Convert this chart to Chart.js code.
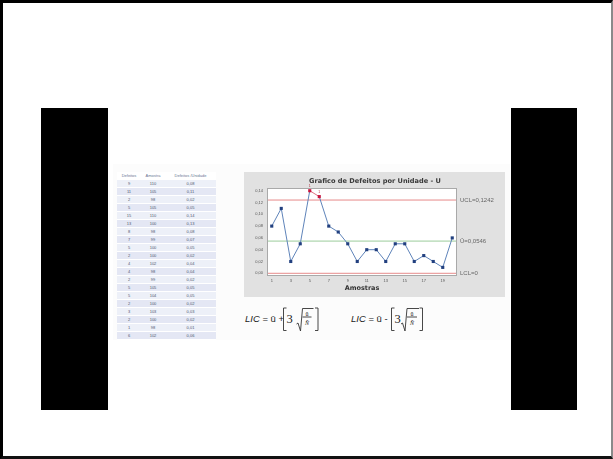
<!DOCTYPE html>
<html>
<head>
<meta charset="utf-8">
<script src="https://cdn.jsdelivr.net/npm/chart.js@4"></script>
<style>
  html, body { margin: 0; padding: 0; background: #fff; }
  #page { position: relative; width: 613px; height: 459px; overflow: hidden; background: #fff; }
  .frame { position: absolute; left: 0; top: 0; width: 613px; height: 459px; box-sizing: border-box;
           border-top: 3px solid #000; border-left: 3px solid #000; border-bottom: 3px solid #111; border-right: 2px solid #8a8a8a; }
  .bar { position: absolute; background: #000; top: 108px; height: 302px; }
  .sheet { position: absolute; left: 113px; top: 164px; width: 397px; height: 176px; background: #fcfcfc; }
  #tbl { position: absolute; left: 117px; top: 172px; width: 99px; border-collapse: collapse;
         font-family: "Liberation Sans", Arial, sans-serif; font-size: 4px; color: #4d5670; }
  #tbl td, #tbl th { height: 7px; padding: 0; text-align: center; line-height: 7px; box-sizing: border-box;
                     border-bottom: 1px solid #fff; font-weight: normal; }
  #tbl th { color: #6b7694; background: #fff; }
  #tbl tr:nth-child(odd) td { background: #e4e7f4; }
  #tbl tr:nth-child(even) td { background: #edf0f8; }
  #chartBox { position: absolute; left: 244px; top: 172px; width: 261px; height: 125px; }
  .formula { position: absolute; top: 300px; overflow: visible; }
</style>
</head>
<body>
<div id="page">
  <div class="bar" style="left:41px;width:67px;"></div>
  <div class="bar" style="left:511px;width:66px;"></div>
  <div class="sheet"></div>
  <table id="tbl"></table>
  <div id="chartBox"><canvas id="uChart" width="261" height="125"></canvas></div>

  <!-- upper limit formula -->
  <svg class="formula" style="left:240px" width="90" height="36" viewBox="240 300 90 36">
    <g fill="#222" stroke="none">
      <text x="245" y="321.5" font-family="Liberation Sans, Arial, sans-serif" font-size="9.5"><tspan font-style="italic">LIC</tspan> = ū +</text>
      <text x="286.5" y="322.5" font-family="Liberation Serif, serif" font-size="12.5">3</text>
      <text x="307" y="315.5" text-anchor="middle" font-family="Liberation Serif, serif" font-size="6">ū</text>
      <text x="307" y="324.5" text-anchor="middle" font-family="Liberation Serif, serif" font-style="italic" font-size="6">N̄</text>
    </g>
    <g fill="none" stroke="#333" stroke-width="0.9">
      <path d="M286.5,308 H283.5 V330.5 H286.5"/>
      <path d="M296.5,324 L298,323 L300.5,331 L302.5,308.5 H313.5"/>
      <path d="M302.5,317 H311.5"/>
      <path d="M315,308 H318 V330.5 H315"/>
    </g>
  </svg>

  <!-- lower limit formula -->
  <svg class="formula" style="left:346px" width="90" height="36" viewBox="346 300 90 36">
    <g fill="#222" stroke="none">
      <text x="351" y="321.5" font-family="Liberation Sans, Arial, sans-serif" font-size="9.5"><tspan font-style="italic">LIC</tspan> = ū -</text>
      <text x="394.5" y="322.5" font-family="Liberation Serif, serif" font-size="12.5">3</text>
      <text x="412" y="315.5" text-anchor="middle" font-family="Liberation Serif, serif" font-size="6">ū</text>
      <text x="412" y="324.5" text-anchor="middle" font-family="Liberation Serif, serif" font-style="italic" font-size="6">N̄</text>
    </g>
    <g fill="none" stroke="#333" stroke-width="0.9">
      <path d="M394.5,308 H391.5 V330.5 H394.5"/>
      <path d="M401,324 L402.5,323 L405,331 L407,308.5 H419"/>
      <path d="M407,317 H417"/>
      <path d="M419.5,308 H422.5 V330.5 H419.5"/>
    </g>
  </svg>

  <div class="frame"></div>
</div>

<script>
// Sample data: defects found, units inspected, defects per unit
const amostras = [1, 2, 3, 4, 5, 6, 7, 8, 9, 10, 11, 12, 13, 14, 15, 16, 17, 18, 19, 20];
const defeitos = [9, 11, 2, 5, 15, 13, 8, 7, 5, 2, 4, 4, 2, 5, 5, 2, 3, 2, 1, 6];
const tamanhos = [110, 105, 98, 105, 110, 100, 98, 99, 100, 100, 102, 98, 99, 105, 104, 100, 103, 100, 98, 102];
const defeitosPorUnidade = [0.08, 0.11, 0.02, 0.05, 0.14, 0.13, 0.08, 0.07, 0.05, 0.02, 0.04, 0.04, 0.02, 0.05, 0.05, 0.02, 0.03, 0.02, 0.01, 0.06];

// Control limits
const UCL = 0.1242;
const U_BAR = 0.0546;
const LCL = 0;

// Axis ticks
const yTicks = [0, 0.02, 0.04, 0.06, 0.08, 0.10, 0.12, 0.14];
const xTicks = [1, 3, 5, 7, 9, 11, 13, 15, 17, 19];

const fmt = v => v.toFixed(2).replace('.', ',');

// Data table
(function buildTable() {
  const t = document.getElementById('tbl');
  let html = '<tr><th>Defeitos</th><th>Amostra</th><th>Defeitos /Unidade</th></tr>';
  for (let i = 0; i < amostras.length; i++) {
    html += '<tr><td>' + defeitos[i] + '</td><td>' + tamanhos[i] + '</td><td>' + fmt(defeitosPorUnidade[i]) + '</td></tr>';
  }
  t.innerHTML = html;
  const cols = t.rows[0].cells;
  cols[0].style.width = '24px';
  cols[1].style.width = '24px';
  cols[2].style.width = '51px';
})();

const BLUE_LINE = '#5f84ba';
const BLUE_PT = '#22407f';
const RED_PT = '#c8143c';
const outOfControl = v => v > UCL;

const seriesPoints = amostras.map((a, i) => ({ x: a, y: defeitosPorUnidade[i] }));
const hLine = v => [{ x: 0.5, y: v }, { x: 20.5, y: v }];

// Panel background, plot frame, title, limit labels and test flags
const decor = {
  id: 'decor',
  beforeDraw(chart) {
    const { ctx, chartArea: a, width, height } = chart;
    ctx.save();
    ctx.fillStyle = '#e1e1e1';
    ctx.fillRect(0, 0, width, height);
    ctx.fillStyle = '#ffffff';
    ctx.fillRect(a.left, a.top, a.right - a.left, a.bottom - a.top);
    ctx.restore();
  },
  afterDatasetsDraw(chart) {
    const { ctx, chartArea: a, scales } = chart;
    const ys = scales.y, xs = scales.x;
    ctx.save();
    ctx.strokeStyle = '#a9a9a9';
    ctx.lineWidth = 1;
    ctx.strokeRect(a.left + 0.5, a.top + 0.5, a.right - a.left - 1, a.bottom - a.top - 1);

    ctx.fillStyle = '#3a3a3a';
    ctx.font = 'bold 6.6px "DejaVu Sans", sans-serif';
    ctx.textAlign = 'center';
    ctx.textBaseline = 'middle';
    ctx.fillText('Grafico de Defeitos por Unidade - U', 131, 9.5);

    ctx.fillStyle = '#666';
    ctx.font = '6px "Liberation Sans", Arial, sans-serif';
    ctx.textAlign = 'left';
    const lx = a.right + 3;
    ctx.fillText('UCL=' + String(UCL).replace('.', ','), lx, ys.getPixelForValue(UCL));
    ctx.fillText('Ū=' + String(U_BAR).replace('.', ','), lx, ys.getPixelForValue(U_BAR));
    ctx.fillText('LCL=' + LCL, lx, ys.getPixelForValue(LCL));

    ctx.fillStyle = '#b03040';
    ctx.font = '3.5px "Liberation Sans", Arial, sans-serif';
    ctx.textAlign = 'center';
    seriesPoints.forEach(p => {
      if (outOfControl(p.y)) {
        ctx.fillText('1', xs.getPixelForValue(p.x), ys.getPixelForValue(p.y) - 5);
      }
    });
    ctx.restore();
  }
};

new Chart(document.getElementById('uChart'), {
  type: 'line',
  data: {
    datasets: [
      {
        label: 'UCL', data: hLine(UCL), borderColor: '#e68a8a', borderWidth: 1,
        pointRadius: 0, fill: false, order: 3
      },
      {
        label: 'Ū', data: hLine(U_BAR), borderColor: '#9ccc9c', borderWidth: 1,
        pointRadius: 0, fill: false, order: 3
      },
      {
        label: 'LCL', data: hLine(LCL), borderColor: '#e68a8a', borderWidth: 1,
        pointRadius: 0, fill: false, order: 3
      },
      {
        label: 'Defeitos por Unidade', data: seriesPoints,
        borderColor: BLUE_LINE, borderWidth: 1, tension: 0, fill: false,
        pointStyle: 'rect', pointRadius: 2.2, pointBorderWidth: 0,
        pointBackgroundColor: ctx => outOfControl(ctx.raw.y) ? RED_PT : BLUE_PT,
        pointBorderColor: ctx => outOfControl(ctx.raw.y) ? RED_PT : BLUE_PT,
        segment: {
          borderColor: s => (outOfControl(s.p0.parsed.y) && outOfControl(s.p1.parsed.y)) ? '#e07080' : BLUE_LINE
        },
        order: 1
      }
    ]
  },
  options: {
    responsive: false,
    animation: false,
    devicePixelRatio: 1,
    layout: { padding: { left: 0, top: 16, right: 48, bottom: 0 } },
    plugins: { legend: { display: false }, tooltip: { enabled: false }, title: { display: false } },
    scales: {
      x: {
        type: 'linear', min: 0.5, max: 20.5,
        grid: { display: false, drawOnChartArea: false, drawTicks: true, tickLength: 2, color: '#777' },
        border: { display: false },
        afterBuildTicks: s => { s.ticks = xTicks.map(v => ({ value: v })); },
        afterFit: s => { s.height = 21; },
        ticks: { font: { size: 4, family: 'Liberation Sans' }, color: '#555', padding: 0, maxRotation: 0,
                 autoSkip: false, callback: v => String(v) },
        title: { display: true, text: 'Amostras', color: '#333',
                 font: { size: 6.5, weight: 'bold', family: 'DejaVu Sans' }, padding: { top: 0, bottom: 5 } }
      },
      y: {
        type: 'linear', min: -0.0046, max: 0.1446,
        grid: { display: false, drawOnChartArea: false, drawTicks: true, tickLength: 2, color: '#777' },
        border: { display: false },
        afterBuildTicks: s => { s.ticks = yTicks.map(v => ({ value: v })); },
        afterFit: s => { s.width = 23; },
        ticks: { font: { size: 4, family: 'Liberation Sans' }, color: '#555', padding: 2, autoSkip: false,
                 callback: v => fmt(v) }
      }
    }
  },
  plugins: [decor]
});
</script>
</body>
</html>
